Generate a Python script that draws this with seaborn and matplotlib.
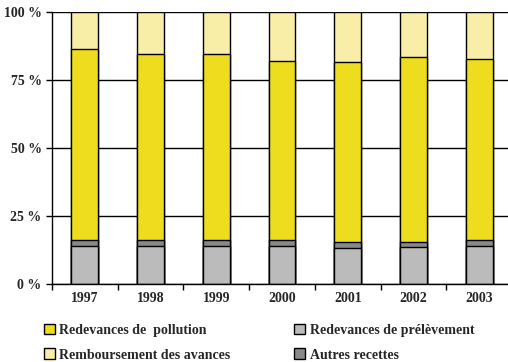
import matplotlib
matplotlib.use("Agg")
import matplotlib.pyplot as plt
import matplotlib.patches as mpatches
import seaborn as sns
import pandas as pd
import numpy as np

years = ["1997", "1998", "1999", "2000", "2001", "2002", "2003"]
prelevement = [14.1, 14.1, 14.1, 14.1, 13.1, 13.6, 14.1]
autres = [1.9, 1.9, 1.9, 1.9, 2.2, 1.7, 1.9]
pollution = [70.2, 68.5, 68.5, 66.0, 66.2, 67.9, 66.6]
remboursement = [13.8, 15.5, 15.5, 18.0, 18.5, 16.8, 17.4]

labels = ["Redevances de  pollution", "Remboursement des avances",
          "Redevances de prélèvement", "Autres recettes"]
colors = {
    "Redevances de prélèvement": "#BBBBBB",
    "Autres recettes": "#888888",
    "Redevances de  pollution": "#EEDD1E",
    "Remboursement des avances": "#F8EEA8",
}

sns.set_theme(style="white")
plt.rcParams["font.family"] = ["Liberation Serif", "DejaVu Serif"]
plt.rcParams["font.weight"] = "bold"

df = pd.DataFrame({
    "year": years,
    "Redevances de prélèvement": prelevement,
    "Autres recettes": autres,
    "Redevances de  pollution": pollution,
    "Remboursement des avances": remboursement,
})
stack_order = ["Redevances de prélèvement", "Autres recettes",
               "Redevances de  pollution", "Remboursement des avances"]
cum = df[stack_order].cumsum(axis=1)

fig = plt.figure(figsize=(5.08, 3.62), dpi=100)
ax = fig.add_axes([52 / 508, 78 / 362, 460 / 508, 272.3 / 362])

# draw cumulative totals from the top layer down so each segment shows
for name in reversed(stack_order):
    sns.barplot(x=df["year"], y=cum[name], color=colors[name], width=0.41,
                edgecolor="black", linewidth=1.0, ax=ax, saturation=1)

ax.set_ylim(0, 100)
ax.set_xlim(-0.5, len(years) - 0.5)
ax.set_yticks([0, 25, 50, 75, 100])
ax.set_yticklabels([f"{v} %" for v in [0, 25, 50, 75, 100]])
ax.yaxis.grid(True, color="black", linewidth=1.0)
ax.set_axisbelow(True)
ax.set_xlabel("")
ax.set_ylabel("")
for s in ["top", "right"]:
    ax.spines[s].set_visible(False)
for s in ["left", "bottom"]:
    ax.spines[s].set_color("black")
    ax.spines[s].set_linewidth(1.0)

ax.set_xticks(np.arange(len(years)))
ax.set_xticklabels(years)
ax.tick_params(axis="x", which="major", length=0, pad=6, labelsize=10)
ax.set_xticks(np.arange(len(years)) - 0.5, minor=True)
ax.tick_params(axis="x", which="minor", length=4, width=1, color="black", direction="out", bottom=True)
ax.tick_params(axis="y", length=4, width=1, color="black", direction="out", left=True, labelsize=10, pad=3.5)

handles = [mpatches.Patch(facecolor=colors[l], edgecolor="black", linewidth=1.0, label=l) for l in labels]
fig.legend(handles=handles, loc="upper left", bbox_to_anchor=(31 / 508, 1 - 311 / 362),
           ncol=2, frameon=False, fontsize=10, handlelength=0.8, handleheight=0.8,
           handletextpad=0.35, columnspacing=4.55, labelspacing=0.85)

fig.savefig("out.png", dpi=100)
